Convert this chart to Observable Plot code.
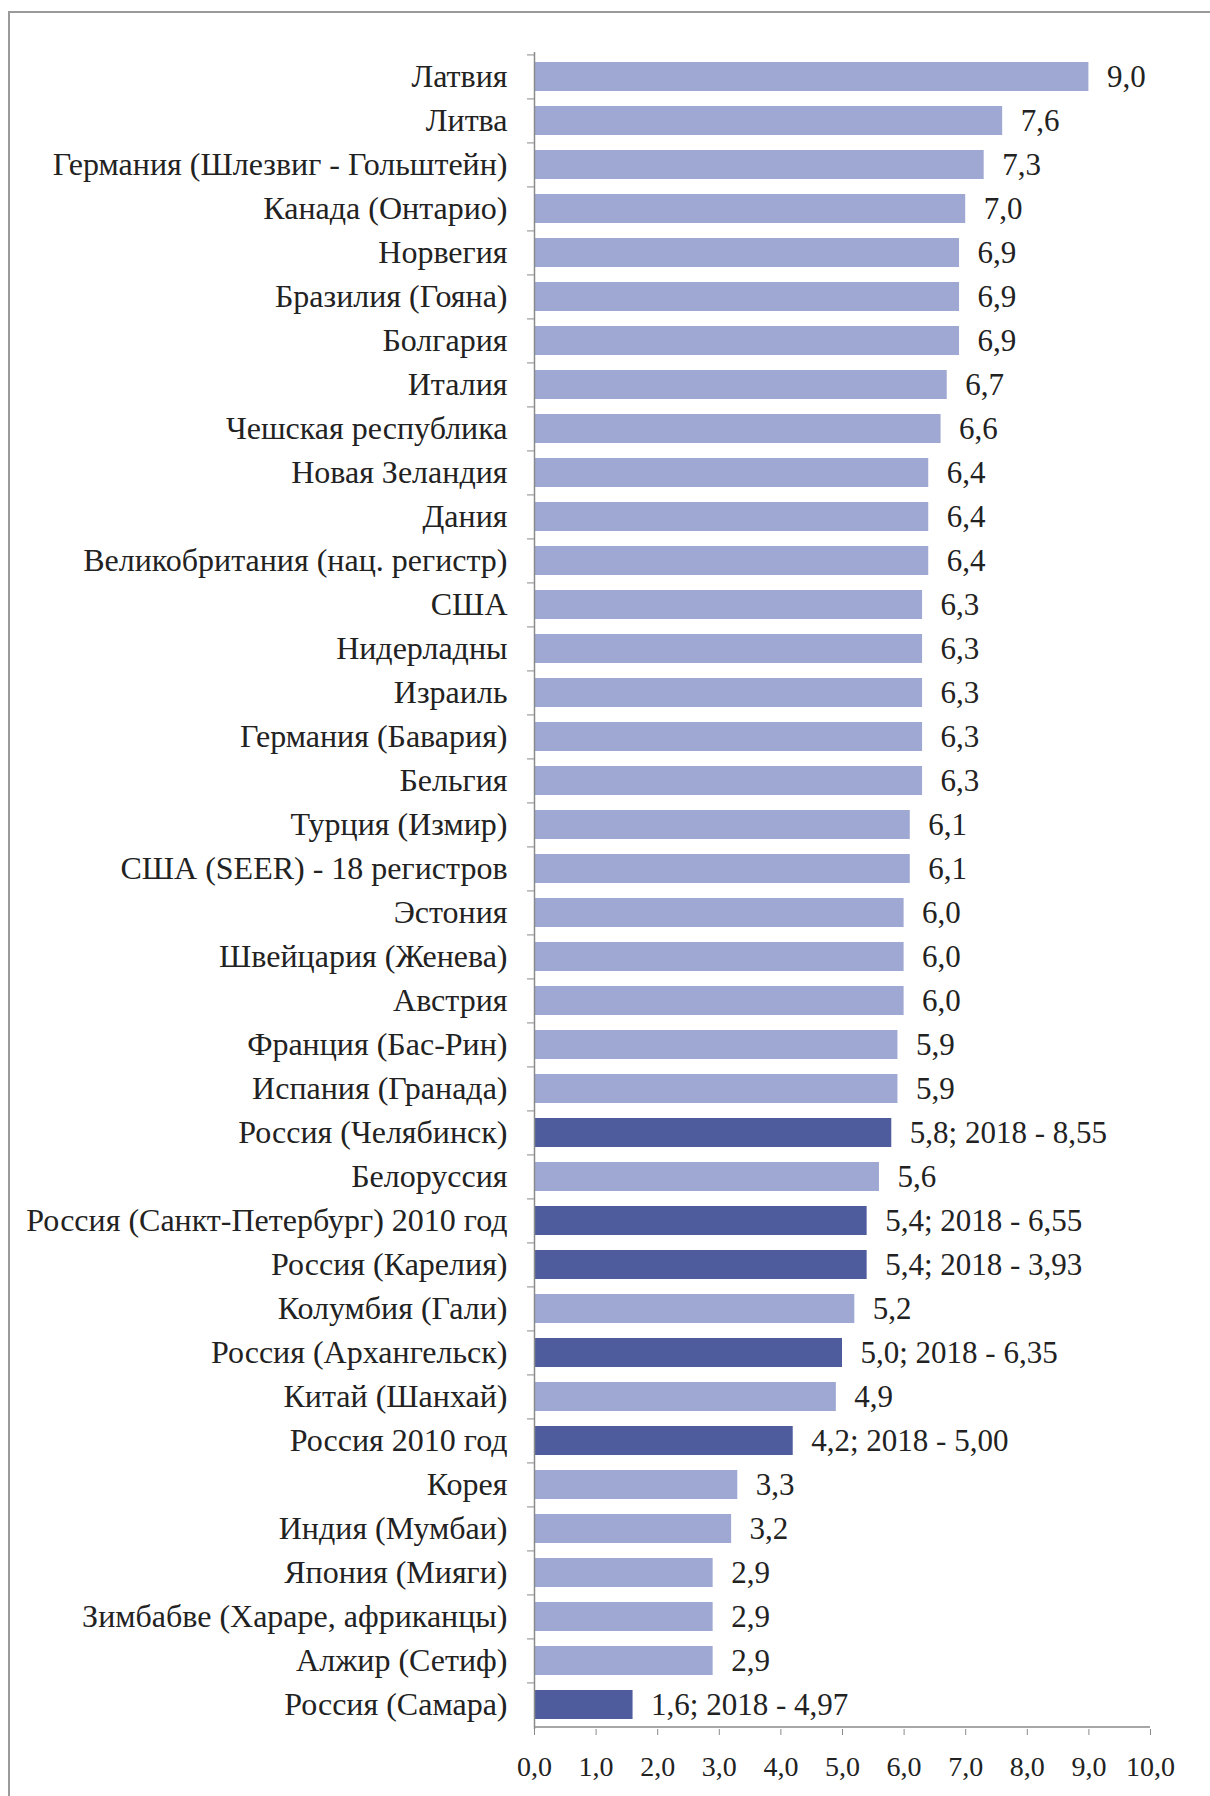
<!DOCTYPE html>
<html><head><meta charset="utf-8">
<script src="https://cdn.jsdelivr.net/npm/d3@7"></script>
<script src="https://cdn.jsdelivr.net/npm/@observablehq/plot@0.6"></script>
<style>
html,body{margin:0;padding:0;background:#fff;}
#wrap{position:relative;width:1210px;height:1796px;overflow:hidden;}
#frame{position:absolute;left:8px;top:11px;right:-4px;bottom:-4px;border-left:2px solid #9a9a9a;border-top:2px solid #9a9a9a;pointer-events:none;}
#chart{position:absolute;left:0;top:0;}
</style></head><body>
<div id="wrap"><div id="frame"></div><div id="chart"></div></div>
<script>
const categories = [
  "Латвия","Литва","Германия (Шлезвиг - Гольштейн)","Канада (Онтарио)","Норвегия",
  "Бразилия (Гояна)","Болгария","Италия","Чешская республика","Новая Зеландия",
  "Дания","Великобритания (нац. регистр)","США","Нидерладны","Израиль",
  "Германия (Бавария)","Бельгия","Турция (Измир)","США (SEER) - 18 регистров","Эстония",
  "Швейцария (Женева)","Австрия","Франция (Бас-Рин)","Испания (Гранада)","Россия (Челябинск)",
  "Белоруссия","Россия (Санкт-Петербург) 2010 год","Россия (Карелия)","Колумбия (Гали)","Россия (Архангельск)",
  "Китай (Шанхай)","Россия 2010 год","Корея","Индия (Мумбаи)","Япония (Мияги)",
  "Зимбабве (Хараре, африканцы)","Алжир (Сетиф)","Россия (Самара)"
];
const values = [
  9.0,7.6,7.3,7.0,6.9,
  6.9,6.9,6.7,6.6,6.4,
  6.4,6.4,6.3,6.3,6.3,
  6.3,6.3,6.1,6.1,6.0,
  6.0,6.0,5.9,5.9,5.8,
  5.6,5.4,5.4,5.2,5.0,
  4.9,4.2,3.3,3.2,2.9,
  2.9,2.9,1.6
];
// 2018 values (only for Russian registries)
const values2018 = [
  null,null,null,null,null,
  null,null,null,null,null,
  null,null,null,null,null,
  null,null,null,null,null,
  null,null,null,null,8.55,
  null,6.55,3.93,null,6.35,
  null,5.00,null,null,null,
  null,null,4.97
];
const xTicks = [0,1,2,3,4,5,6,7,8,9,10];

const W = 1210, H = 1796, mL = 534, mR = 60, mT = 52, mB = 67;
const step = (H - mT - mB) / categories.length;
const light = "#9ea8d3", dark = "#4e5c9e", ink = "#222", axisGray = "#8a8a8a";
const fmt1 = v => v.toFixed(1).replace(".", ",");
const fmt2 = v => v.toFixed(2).replace(".", ",");

const data = categories.map((c, i) => ({
  name: c, value: values[i], v2018: values2018[i], ru: values2018[i] != null
}));
const label = d => d.ru ? `${fmt1(d.value)}; 2018 - ${fmt2(d.v2018)}` : fmt1(d.value);

const chart = Plot.plot({
  width: W, height: H,
  marginLeft: mL, marginRight: mR, marginTop: mT, marginBottom: mB,
  style: {fontFamily: "'Liberation Serif','Times New Roman',serif", fontSize: "30px", color: ink, background: "transparent"},
  x: {domain: [0, 10], label: null},
  y: {domain: categories, paddingInner: 0.35, paddingOuter: 0.175, label: null},
  marks: [
    Plot.barX(data, {x: "value", y: "name", fill: d => d.ru ? dark : light}),
    Plot.text(data, {x: "value", y: "name", text: label, textAnchor: "start", dx: 18, fill: ink, fontSize: 31}),
    Plot.ruleX([0], {stroke: axisGray, strokeWidth: 1.5}),
    Plot.ruleY([categories[categories.length - 1]], {x1: 0, x2: 10, dy: step / 2, stroke: axisGray, strokeWidth: 1.5}),
    Plot.axisY({tickSize: 0, tickPadding: 27, fontSize: 32, fill: ink, label: null}),
    Plot.axisY({tickSize: 7, text: null, dy: -step / 2, stroke: axisGray, label: null}),
    Plot.axisX({ticks: xTicks, tickFormat: fmt1, tickSize: 6, tickPadding: 21, fontSize: 28, fill: ink, stroke: axisGray, label: null})
  ]
});
document.getElementById("chart").appendChild(chart);
</script>
</body></html>
